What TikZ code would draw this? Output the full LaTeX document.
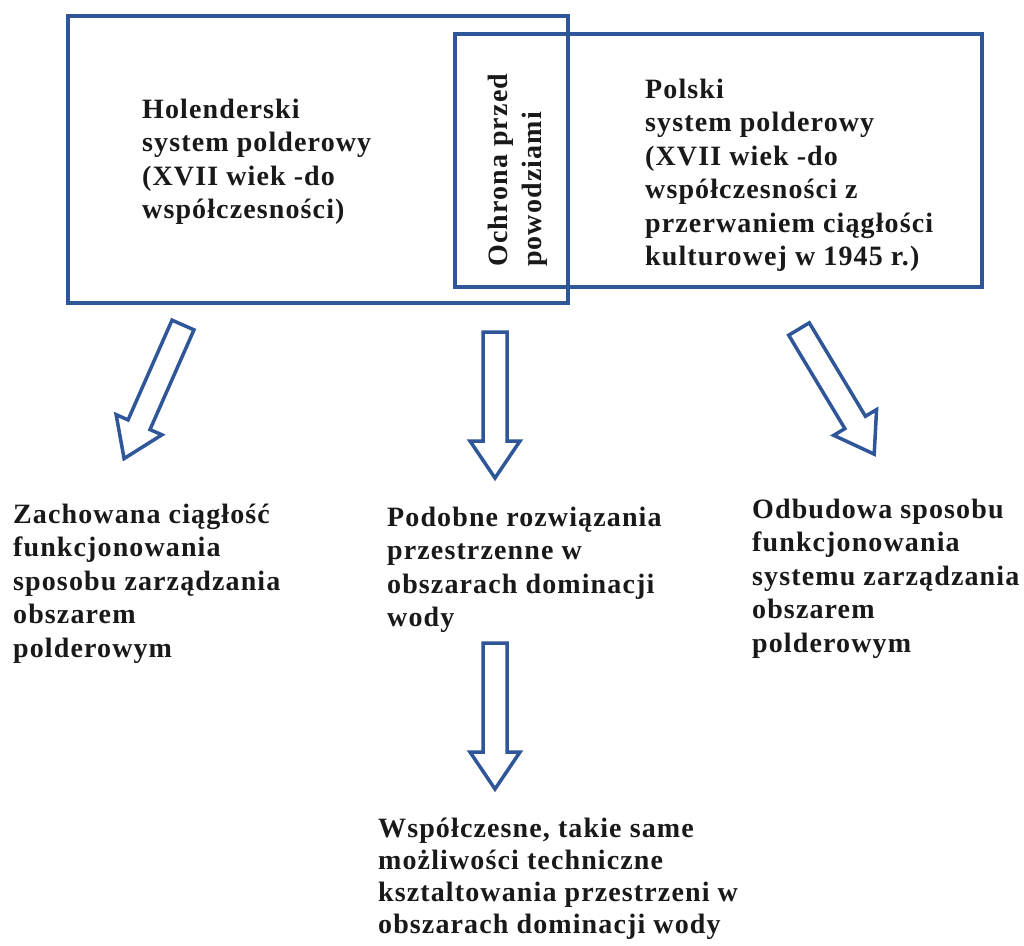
\documentclass[tikz,border=0pt]{standalone}
\usepackage{fontspec}
\setmainfont{Liberation Serif}[LetterSpace=4]
\definecolor{bl}{RGB}{47,86,152}
\definecolor{ink}{RGB}{25,25,25}
\begin{document}
\begin{tikzpicture}[x=1pt,y=-1pt,
  frame/.style={draw=bl, line width=4pt, inner sep=0pt},
  txt/.style={font=\fontsize{28}{33.5}\selectfont\bfseries, text=ink, align=left, inner sep=0pt, anchor=north west},
  blockarrow/.pic={\draw[draw=bl, line width=3.5pt, fill=white, line join=miter]
     (-12,0) -- (12,0) -- (12,109) -- (25,109) -- (0,146) -- (-25,109) -- (-12,109) -- cycle;}
]
\path[use as bounding box, fill=white] (0,0) rectangle (1024,945);
% boxes
\node[frame, minimum width=500pt, minimum height=287pt] (hol) at (318,159.5) {};
\node[frame, minimum width=527pt, minimum height=253pt] (pol) at (718.5,160.5) {};
% texts in boxes
\node[txt] (holt) at (142,94.5) {\strut Holenderski\\system polderowy\\(XVII wiek -do\\współczesności)};
\node[txt] (polt) at (645,74.5) {\strut Polski\\system polderowy\\(XVII wiek -do\\współczesności z\\przerwaniem ciągłości\\kulturowej w 1945 r.)};
\node[txt, rotate=90] (ochr) at (484,267) {\strut Ochrona przed\\powodziami};
% block arrows
\pic (a1) [rotate=-23.8] at (183,325) {blockarrow};
\pic (a2) at (495,332) {blockarrow};
\pic (a3) [rotate=31] at (799,329) {blockarrow};
\pic (a4) at (495,643) {blockarrow};
% lower texts
\node[txt] (zach) at (13,499.5) {\strut Zachowana ciągłość\\funkcjonowania\\sposobu zarządzania\\obszarem\\polderowym};
\node[txt] (podo) at (387,502.5) {\strut Podobne rozwiązania\\przestrzenne w\\obszarach dominacji\\wody};
\node[txt] (odbu) at (752,494.5) {\strut Odbudowa sposobu\\funkcjonowania\\systemu zarządzania\\obszarem\\polderowym};
\node[txt, font=\fontsize{28}{32}\selectfont\bfseries] (wspo) at (378,814.6) {\strut Współczesne, takie same\\możliwości techniczne\\ksztaltowania przestrzeni w\\obszarach dominacji wody};
\end{tikzpicture}
\end{document}
